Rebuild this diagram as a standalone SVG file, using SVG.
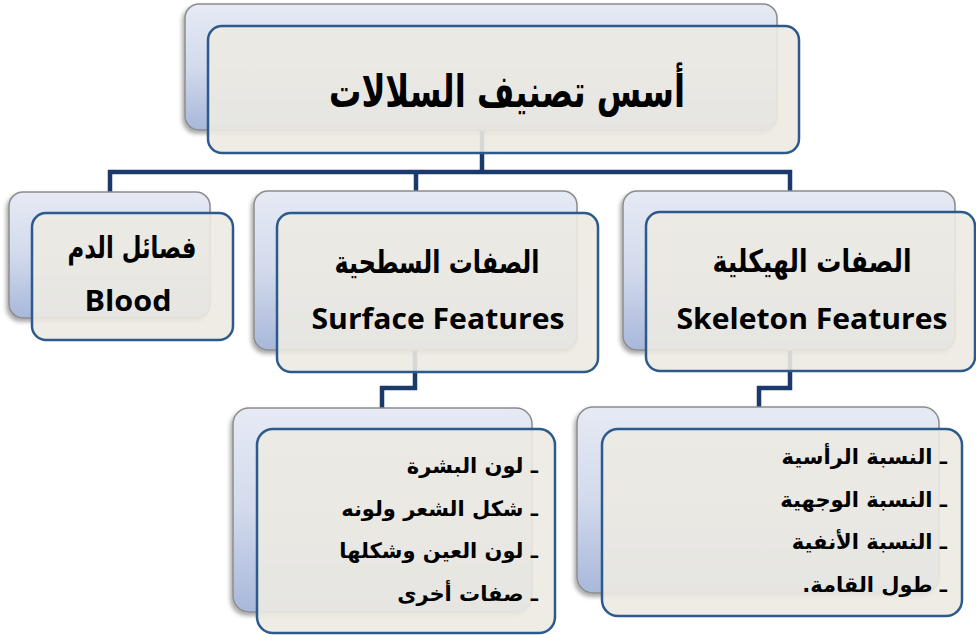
<svg xmlns="http://www.w3.org/2000/svg" width="976" height="638" viewBox="0 0 976 638">
<style>
.back{fill:url(#bg);stroke:#8c8c8c;stroke-width:1.5;filter:url(#sh)}
.front{fill:#ECEAE2;fill-opacity:0.9;stroke:#2D5A8C;stroke-width:2.5}
.conn{fill:none;stroke:#1B3A6B;stroke-width:4.5;stroke-linejoin:miter}
.ar{font-family:"DejaVu Sans",sans-serif;font-weight:bold;fill:#000}
.li{font-family:"DejaVu Sans",sans-serif;font-weight:bold;fill:#000;font-size:21px}
.en{font-family:"Open Sans","Liberation Sans",sans-serif;font-weight:bold;fill:#000}
</style>
<defs>
<linearGradient id="bg" x1="0" y1="0" x2="0" y2="1">
<stop offset="0" stop-color="#E6EAF4"/>
<stop offset="0.5" stop-color="#D2DAEC"/>
<stop offset="1" stop-color="#A8B8DA"/>
</linearGradient>
<filter id="sh" x="-10%" y="-10%" width="120%" height="130%">
<feDropShadow dx="-2" dy="3" stdDeviation="2" flood-color="#000" flood-opacity="0.35"/>
</filter>
</defs>
<rect width="976" height="638" fill="#fff"/>
<g id="connectors">
<path class="conn" d="M482,120 V172"/>
<path class="conn" d="M110,192 V172 H790 V192"/>
<path class="conn" d="M416,172 V192"/>
<path class="conn" d="M415,340 V388 H382 V410"/>
<path class="conn" d="M790,340 V388 H759 V410"/>
</g>
<g id="root">
<rect class="back" x="185" y="4" width="592" height="126" rx="14"/>
<rect class="front" x="208" y="26" width="591" height="127" rx="14"/>
<text class="ar" x="507" y="107" font-size="45" text-anchor="middle" direction="rtl" textLength="356" lengthAdjust="spacingAndGlyphs">أسس تصنيف السلالات</text>
</g>
<g id="blood">
<rect class="back" x="9" y="192" width="201" height="126" rx="14"/>
<rect class="front" x="32" y="213" width="201" height="127" rx="14"/>
<text class="ar" x="132" y="258" font-size="30" text-anchor="middle" direction="rtl" textLength="129" lengthAdjust="spacingAndGlyphs">فصائل الدم</text>
<text class="en" x="128" y="311" font-size="28" text-anchor="middle" textLength="87" lengthAdjust="spacingAndGlyphs">Blood</text>
</g>
<g id="surface">
<rect class="back" x="254" y="191" width="323" height="159" rx="14"/>
<rect class="front" x="277" y="213" width="321" height="159" rx="14"/>
<text class="ar" x="437" y="273" font-size="31" text-anchor="middle" direction="rtl" textLength="205" lengthAdjust="spacingAndGlyphs">الصفات السطحية</text>
<text class="en" x="438" y="329" font-size="29" text-anchor="middle" textLength="253" lengthAdjust="spacingAndGlyphs">Surface Features</text>
</g>
<g id="skeleton">
<rect class="back" x="623" y="191" width="332" height="159" rx="14"/>
<rect class="front" x="646" y="212" width="329" height="159" rx="14"/>
<text class="ar" x="812" y="272" font-size="31" text-anchor="middle" direction="rtl" textLength="199" lengthAdjust="spacingAndGlyphs">الصفات الهيكلية</text>
<text class="en" x="812" y="329" font-size="29" text-anchor="middle" textLength="271" lengthAdjust="spacingAndGlyphs">Skeleton Features</text>
</g>
<g id="surface-list">
<rect class="back" x="233" y="408" width="299" height="204" rx="16"/>
<rect class="front" x="257" y="429" width="298" height="204" rx="16"/>
<text class="li" x="538" y="473" text-anchor="start" direction="rtl">ـ لون البشرة</text>
<text class="li" x="538" y="516" text-anchor="start" direction="rtl">ـ شكل الشعر ولونه</text>
<text class="li" x="538" y="558" text-anchor="start" direction="rtl">ـ لون العين وشكلها</text>
<text class="li" x="538" y="601" text-anchor="start" direction="rtl">ـ صفات أخرى</text>
</g>
<g id="skeleton-list">
<rect class="back" x="577" y="407" width="362" height="186" rx="16"/>
<rect class="front" x="602" y="429" width="360" height="187" rx="16"/>
<text class="li" x="947" y="464" text-anchor="start" direction="rtl">ـ النسبة الرأسية</text>
<text class="li" x="947" y="507" text-anchor="start" direction="rtl">ـ النسبة الوجهية</text>
<text class="li" x="947" y="549" text-anchor="start" direction="rtl">ـ النسبة الأنفية</text>
<text class="li" x="947" y="592" text-anchor="start" direction="rtl">ـ طول القامة.</text>
</g>
</svg>
